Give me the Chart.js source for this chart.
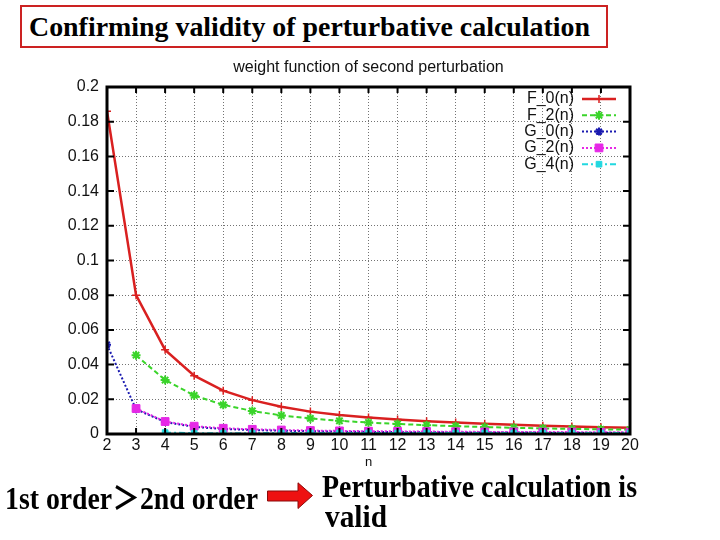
<!DOCTYPE html>
<html>
<head>
<meta charset="utf-8">
<script src="https://cdn.jsdelivr.net/npm/chart.js@4.4.0/dist/chart.umd.min.js"></script>
<style>
html, body { margin: 0; padding: 0; background: #fff; }
body { width: 720px; height: 540px; position: relative; overflow: hidden; }
#plot { position: absolute; left: 0; top: 0; }
.slide {
    position: absolute;
    font-family: "Liberation Serif", "Times New Roman", serif;
    font-weight: bold;
    color: #000;
    white-space: nowrap;
    line-height: 1;
    transform-origin: 0 0;
}
.gt { font-family: "Noto Sans CJK JP", sans-serif; font-weight: bold; }
#heading-box { position: absolute; left: 20px; top: 5px; width: 584px; height: 39px; border: 2px solid #cc2222; }
#arrow { position: absolute; left: 267px; top: 482px; }
</style>
</head>
<body>
<div id="heading-box"></div>
<span class="slide" id="heading" data-w="561" style="left:29px; top:14px; font-size:27px;">Confirming validity of perturbative calculation</span>
<canvas id="plot" width="720" height="540"></canvas>
<span class="slide" data-w="253" style="left:5px; top:479px; font-size:32px;">1st order<span class="gt">＞</span>2nd order</span>
<svg id="arrow" width="47" height="28" viewBox="0 0 47 28">
    <polygon points="0.5,9 31,9 31,0.8 45.5,13.5 31,26.5 31,19 0.5,19" fill="#ee1111" stroke="#8a0a0a" stroke-width="1"/>
</svg>
<span class="slide" data-w="315" style="left:322px; top:470px; font-size:32px;">Perturbative calculation is</span>
<span class="slide" data-w="62" style="left:325px; top:500px; font-size:32px;">valid</span>

<script>
const plotTitle = 'weight function of second perturbation';
const nValues = [2, 3, 4, 5, 6, 7, 8, 9, 10, 11, 12, 13, 14, 15, 16, 17, 18, 19, 20];
const seriesNames = ['F_0(n)', 'F_2(n)', 'G_0(n)', 'G_2(n)', 'G_4(n)'];
const f0Values = [0.186, 0.080, 0.0485, 0.0336, 0.0250, 0.0195, 0.0157, 0.0129, 0.0109, 0.0095, 0.0084, 0.0074, 0.0066, 0.0059, 0.0053, 0.0048, 0.0043, 0.0039, 0.0036];
const f2Values = [null, 0.0454, 0.0311, 0.0222, 0.0168, 0.0133, 0.0107, 0.0090, 0.0076, 0.0066, 0.0058, 0.0051, 0.0045, 0.0040, 0.0036, 0.0032, 0.0029, 0.0027, 0.0025];
const g0Values = [0.0515, 0.0142, 0.0069, 0.0041, 0.0029, 0.0023, 0.0019, 0.0016, 0.0014, 0.0012, 0.0011, 0.0010, 0.0009, 0.0009, 0.0008, 0.0008, 0.0007, 0.0007, 0.0007];
const g2Values = [null, 0.0147, 0.0072, 0.0045, 0.0033, 0.0027, 0.0023, 0.0020, 0.0018, 0.0016, 0.0015, 0.0014, 0.0013, 0.0012, 0.0012, 0.0011, 0.0011, 0.0010, 0.0010];
const g4Values = [null, null, 0.0008, 0.0005, 0.0005, 0.0005, 0.0006, 0.0006, 0.0006, 0.0006, 0.0006, 0.0006, 0.0006, 0.0006, 0.0006, 0.0006, 0.0006, 0.0006, 0.0006];

const sansFont = '"Liberation Sans", Arial, sans-serif';

function toPoints(values) {
    return nValues.map((n, i) => ({ x: n, y: values[i] }));
}

// squeeze the slide texts to the widths they have on the slide
document.querySelectorAll('[data-w]').forEach(el => {
    const w = el.getBoundingClientRect().width;
    el.style.transform = 'scaleX(' + (Number(el.dataset.w) / w) + ')';
});

// gnuplot style: boxed frame, inward ticks, title and key inside the plot
const gnuplotFrame = {
    id: 'gnuplotFrame',
    afterDatasetsDraw(chart) {
        const { ctx, chartArea: a, scales: { x, y } } = chart;
        ctx.save();

        ctx.strokeStyle = '#000';
        ctx.lineWidth = 2;
        ctx.beginPath();
        x.ticks.forEach(t => {
            const px = x.getPixelForValue(t.value);
            ctx.moveTo(px, a.bottom); ctx.lineTo(px, a.bottom - 6);
            ctx.moveTo(px, a.top); ctx.lineTo(px, a.top + 6);
        });
        y.ticks.forEach(t => {
            const py = y.getPixelForValue(t.value);
            ctx.moveTo(a.left, py); ctx.lineTo(a.left + 7, py);
            ctx.moveTo(a.right, py); ctx.lineTo(a.right - 7, py);
        });
        ctx.stroke();

        ctx.lineWidth = 3;
        ctx.strokeRect(a.left, a.top, a.right - a.left, a.bottom - a.top);

        // title
        ctx.fillStyle = '#111';
        ctx.font = '16px ' + sansFont;
        ctx.textAlign = 'center';
        ctx.textBaseline = 'middle';
        ctx.fillText(plotTitle, (a.left + a.right) / 2, a.top - 19);

        // key
        ctx.textAlign = 'right';
        chart.data.datasets.forEach((ds, i) => {
            const rowY = a.top + 12 + i * 16.3;
            ctx.fillStyle = '#111';
            ctx.fillText(ds.label, a.right - 56, rowY);
            ctx.strokeStyle = ds.borderColor;
            ctx.lineWidth = ds.borderWidth;
            ctx.setLineDash(ds.borderDash || []);
            ctx.beginPath();
            ctx.moveTo(a.right - 48, rowY);
            ctx.lineTo(a.right - 14, rowY);
            ctx.stroke();
            ctx.setLineDash([]);
            ctx.fillStyle = ds.pointBackgroundColor;
            ctx.lineWidth = ds.pointBorderWidth;
            Chart.helpers.drawPoint(ctx, {
                pointStyle: ds.pointStyle,
                radius: ds.pointRadius,
                borderWidth: ds.pointBorderWidth,
                rotation: 0
            }, a.right - 31, rowY);
        });

        ctx.restore();
    }
};

new Chart(document.getElementById('plot'), {
    type: 'line',
    data: {
        datasets: [
            {
                label: seriesNames[0], data: toPoints(f0Values), order: 5,
                borderColor: '#d92020', borderWidth: 2.5,
                pointStyle: 'cross', pointRadius: 4, pointBorderWidth: 1.5,
                pointBackgroundColor: '#d92020', pointBorderColor: '#d92020'
            },
            {
                label: seriesNames[1], data: toPoints(f2Values), order: 4,
                borderColor: '#3ad42a', borderWidth: 2, borderDash: [5, 3],
                pointStyle: 'star', pointRadius: 4.5, pointBorderWidth: 2,
                pointBackgroundColor: '#3ad42a', pointBorderColor: '#3ad42a'
            },
            {
                label: seriesNames[2], data: toPoints(g0Values), order: 3,
                borderColor: '#1a1ab0', borderWidth: 2, borderDash: [2, 2],
                pointStyle: 'star', pointRadius: 4, pointBorderWidth: 2,
                pointBackgroundColor: '#1a1ab0', pointBorderColor: '#1a1ab0'
            },
            {
                label: seriesNames[3], data: toPoints(g2Values), order: 2,
                borderColor: '#e628e6', borderWidth: 2, borderDash: [2, 2],
                pointStyle: 'rect', pointRadius: 5.5, pointBorderWidth: 1,
                pointBackgroundColor: '#e628e6', pointBorderColor: '#e628e6'
            },
            {
                label: seriesNames[4], data: toPoints(g4Values), order: 1,
                borderColor: '#22d8e0', borderWidth: 2, borderDash: [6, 3, 2, 3],
                pointStyle: 'rect', pointRadius: 4, pointBorderWidth: 1,
                pointBackgroundColor: '#22d8e0', pointBorderColor: '#22d8e0'
            }
        ]
    },
    options: {
        responsive: false,
        animation: false,
        devicePixelRatio: 1,
        layout: { padding: { left: 0, right: 90, top: 87, bottom: 66 } },
        elements: { line: { tension: 0, fill: false } },
        plugins: {
            legend: { display: false },
            tooltip: { enabled: false },
            title: { display: false }
        },
        scales: {
            x: {
                type: 'linear',
                min: 2,
                max: 20,
                ticks: { stepSize: 1, color: '#111', padding: 2, font: { family: sansFont, size: 16 } },
                grid: { color: 'rgba(0,0,0,0.55)', lineWidth: 1, drawTicks: false },
                border: { display: false, dash: [1, 2] },
                title: { display: true, text: 'n', color: '#111', font: { family: sansFont, size: 13 }, padding: { top: 0, bottom: 4 } },
                afterFit(axis) { axis.height = 40; }
            },
            y: {
                min: 0,
                max: 0.2,
                ticks: {
                    stepSize: 0.02, color: '#111', padding: 8,
                    font: { family: sansFont, size: 16 },
                    callback: v => String(Number(v.toFixed(2)))
                },
                grid: { color: 'rgba(0,0,0,0.55)', lineWidth: 1, drawTicks: false },
                border: { display: false, dash: [1, 2] },
                afterFit(axis) { axis.width = 107; }
            }
        }
    },
    plugins: [gnuplotFrame]
});
</script>
</body>
</html>
